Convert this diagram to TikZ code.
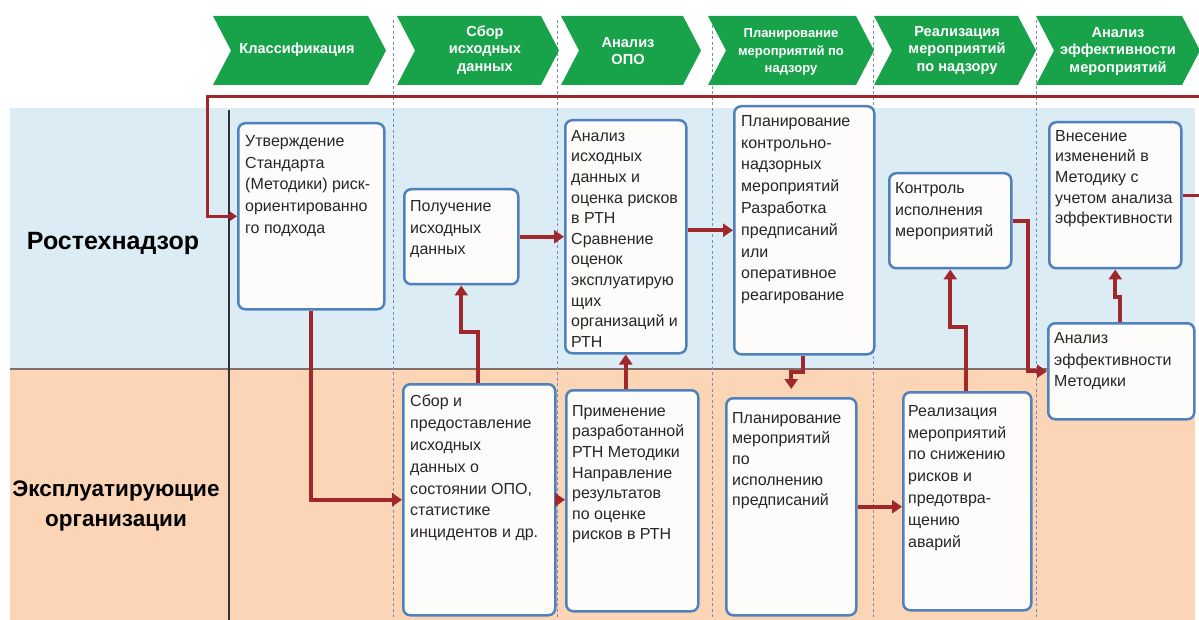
\documentclass[tikz,border=0pt]{standalone}
\usepackage{fontspec}
\setmainfont{Liberation Sans}
\usetikzlibrary{arrows.meta,calc}
\definecolor{chev}{RGB}{24,163,75}
\definecolor{laneblue}{RGB}{219,236,244}
\definecolor{laneorange}{RGB}{251,213,181}
\definecolor{boxc}{RGB}{79,129,189}
\definecolor{boxfill}{RGB}{253,252,250}
\definecolor{redc}{RGB}{160,40,45}
\definecolor{dashc}{RGB}{120,140,190}
\definecolor{sepc}{RGB}{130,110,100}
\definecolor{darkc}{RGB}{50,50,50}
\tikzset{
  bx/.style={draw=boxc, line width=2.5pt, rounded corners=7pt, fill=boxfill, inner sep=0pt, anchor=north west},
  txt/.style={anchor=north west, inner sep=0pt, align=left, text=black!85, font=\fontsize{16}{21.8}\selectfont},
  txtc/.style={txt, font=\fontsize{16}{20.6}\selectfont},
  chevshape/.style={fill=chev},
  chevtxt/.style={text=white, align=center, inner sep=0pt, font=\fontsize{14.6}{17.5}\selectfont\bfseries},
  lanetxt/.style={align=center, inner sep=0pt, font=\fontsize{25}{30}\selectfont\bfseries},
  rarr/.style={draw=redc, line width=4pt, -{Triangle[length=10pt,width=13pt]}},
  fbarr/.style={draw=redc, line width=3pt, -{Triangle[length=7pt,width=9pt]}},
  dashln/.style={draw=dashc, line width=1pt, dash pattern=on 3pt off 2.5pt}
}
\begin{document}
\begin{tikzpicture}[x=1pt,y=-1pt]
\useasboundingbox (0,0) rectangle (1199,620);
\fill[white] (0,0) rectangle (1199,620);
% lanes
\fill[laneblue] (10,108) rectangle (1195,369);
\fill[laneorange] (10,369) rectangle (1195,620);
\draw[sepc, line width=2pt] (10,369) -- (1195,369);
\draw[darkc, line width=1.2pt] (229,110) -- (229,620);
% phase separators
\foreach \x in {393,557,712,873,1036} \draw[dashln] (\x,20) -- (\x,620);
% chevrons
\foreach \L/\R in {213/368, 397/541, 561/683, 708/856, 874/1018, 1036/1182}
  \fill[chevshape] (\L,16) -- (\R,16) -- (\R+18,50.5) -- (\R,85) -- (\L,85) -- (\L+18,50.5) -- cycle;
\node[chevtxt] (c1) at (297,50) {Классификация};
\node[chevtxt] (c2) at (485,50) {Сбор\\исходных\\данных};
\node[chevtxt] (c3) at (628,51) {Анализ\\ОПО};
\node[chevtxt, font=\fontsize{13}{17.5}\selectfont\bfseries] (c4) at (791,52) {Планирование\\мероприятий по\\надзору};
\node[chevtxt] (c5) at (957,50) {Реализация\\мероприятий\\по надзору};
\node[chevtxt] (c6) at (1118,51) {Анализ\\эффективности\\мероприятий};
% lane labels
\node[lanetxt] (l1) at (113,243) {Ростехнадзор};
\node[lanetxt, font=\fontsize{22.5}{30}\selectfont\bfseries] (l2) at (116,506) {Эксплуатирующие\\организации};
% boxes
\node[bx, minimum width=146pt, minimum height=186pt] (A) at (237,122) {};
\node[bx, minimum width=114pt, minimum height=95pt] (B) at (403,188) {};
\node[bx, minimum width=121pt, minimum height=233pt] (C) at (564,119) {};
\node[bx, minimum width=140pt, minimum height=248pt] (D) at (733,105) {};
\node[bx, minimum width=122pt, minimum height=95pt] (E) at (888,172) {};
\node[bx, minimum width=132pt, minimum height=146pt] (F) at (1048,121) {};
\node[bx, minimum width=146pt, minimum height=96pt] (G) at (1047,322) {};
\node[bx, minimum width=152pt, minimum height=231pt] (H) at (402,383) {};
\node[bx, minimum width=132pt, minimum height=221pt] (I) at (565,389) {};
\node[bx, minimum width=130pt, minimum height=217pt] (J) at (725,397) {};
\node[bx, minimum width=128pt, minimum height=218pt] (K) at (902,391) {};
% texts
\node[txt] (At) at (245,135) {Утверждение\\Стандарта\\(Методики) риск-\\ориентированно\\го подхода};
\node[txt] (Bt) at (410,200) {Получение\\исходных\\данных};
\node[txtc] (Ct) at (571,130) {Анализ\\исходных\\данных и\\оценка рисков\\в РТН\\Сравнение\\оценок\\эксплуатирую\\щих\\организаций и\\РТН};
\node[txt] (Dt) at (741,115) {Планирование\\контрольно-\\надзорных\\мероприятий\\Разработка\\предписаний\\или\\оперативное\\реагирование};
\node[txt] (Et) at (895,182) {Контроль\\исполнения\\мероприятий};
\node[txtc] (Ft) at (1055,130) {Внесение\\изменений в\\Методику с\\учетом анализа\\эффективности};
\node[txt] (Gt) at (1054,332) {Анализ\\эффективности\\Методики};
\node[txt] (Ht) at (410,395) {Сбор и\\предоставление\\исходных\\данных о\\состоянии ОПО,\\статистике\\инцидентов и др.};
\node[txtc] (It) at (572,405) {Применение\\разработанной\\РТН Методики\\Направление\\результатов\\по оценке\\рисков в РТН};
\node[txtc] (Jt) at (732,412) {Планирование\\мероприятий\\по\\исполнению\\предписаний};
\node[txt] (Kt) at (908,405) {Реализация\\мероприятий\\по снижению\\рисков и\\предотвра-\\щению\\аварий};
% helper coordinates
\coordinate (fbR) at (1215,97);
\coordinate (fbL) at (207,97);
\coordinate (hb) at (478,332);
\coordinate (dj) at (803,372);
\coordinate (ke) at (966,327);
\coordinate (egc) at (1028,0);
\coordinate (gf) at (1120,297);
% connectors
\draw[fbarr] (F.east) -| (fbR) -- (fbL) |- (A.west);
\draw[rarr] (A.south) |- (H.west);
\draw[rarr] (H.north -| hb) -- (hb) -| (B.south);
\draw[rarr] (B.east) -- (C.west);
\draw[rarr] (H.east) -- (H.east -| I.west);
\draw[rarr] (C.south |- I.north) -- (C.south);
\draw[rarr] (C.east |- D.west) -- (D.west);
\draw[rarr, shorten >=8pt] (D.south -| dj) -- (dj) -| (J.north);
\draw[rarr] (J.east) -- (J.east -| K.west);
\draw[rarr] (K.north -| ke) -- (ke) -| (E.south);
\draw[rarr] (E.east) -| (egc |- G.west) -- (G.west);
\draw[rarr] (G.north -| gf) -- (gf) -| (F.south);
\end{tikzpicture}
\end{document}
